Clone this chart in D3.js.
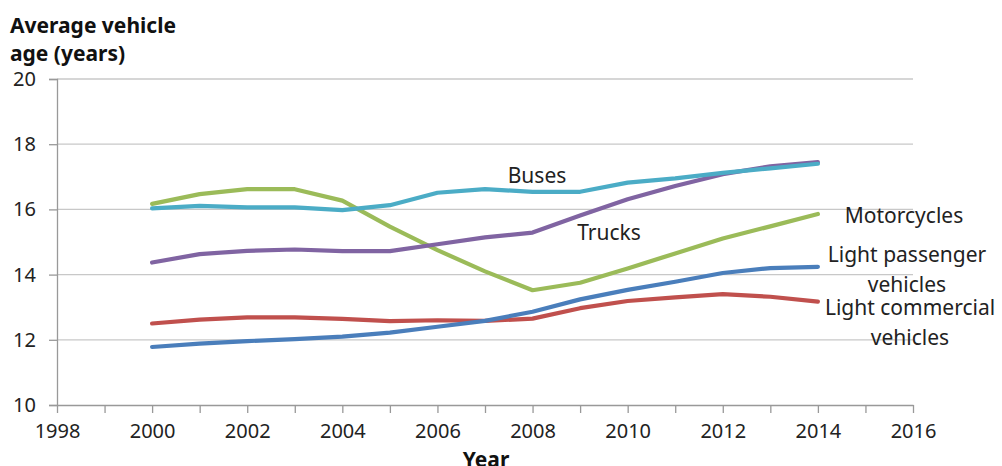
<!DOCTYPE html>
<html>
<head>
<meta charset="utf-8">
<script src="https://d3js.org/d3.v7.min.js"></script>
<style>
   body { margin: 0; background: #fff; }
   text { font-family: "Noto Sans", "Open Sans", sans-serif; fill: #222; }
</style>
</head>
<body>
<div id="chart"></div>
<script>
// average vehicle age by vehicle type, 2000..2014

var years = [2000, 2001, 2002, 2003, 2004, 2005, 2006, 2007, 2008, 2009, 2010, 2011, 2012, 2013, 2014];

var buses = [16.03, 16.11, 16.06, 16.06, 15.98, 16.13, 16.51, 16.62, 16.54, 16.54, 16.82, 16.95, 17.12, 17.26, 17.4];
var trucks = [14.37, 14.63, 14.73, 14.77, 14.72, 14.72, 14.93, 15.14, 15.29, 15.81, 16.31, 16.72, 17.08, 17.32, 17.45];
var motorcycles = [16.17, 16.47, 16.62, 16.62, 16.27, 15.47, 14.75, 14.1, 13.52, 13.75, 14.19, 14.65, 15.11, 15.48, 15.86];
var light_passenger = [11.78, 11.88, 11.96, 12.02, 12.1, 12.22, 12.4, 12.58, 12.86, 13.24, 13.53, 13.78, 14.05, 14.2, 14.24];
var light_commercial = [12.5, 12.62, 12.69, 12.69, 12.64, 12.57, 12.6, 12.58, 12.65, 12.97, 13.19, 13.3, 13.4, 13.32, 13.17];

var x_ticks = [1998, 2000, 2002, 2004, 2006, 2008, 2010, 2012, 2014, 2016];
var y_ticks = [10, 12, 14, 16, 18, 20];

var series = [
   {name: "Light commercial", values: light_commercial, color: "#c0504d"},
   {name: "Light passenger", values: light_passenger, color: "#4a7ebb"},
   {name: "Motorcycles", values: motorcycles, color: "#9bbb59"},
   {name: "Trucks", values: trucks, color: "#8064a2"},
   {name: "Buses", values: buses, color: "#4bacc6"}
];

// labels placed next to the lines, like in the original
var labels = [
   {lines: ["Buses"], x: 537, y: 176},
   {lines: ["Trucks"], x: 609, y: 233},
   {lines: ["Motorcycles"], x: 904, y: 216},
   {lines: ["Light passenger", "vehicles"], x: 907, y: 255},
   {lines: ["Light commercial", "vehicles"], x: 910, y: 308}
];

var width = 1002;
var height = 466;

var svg = d3.select("#chart").append("svg")
   .attr("width", width)
   .attr("height", height);

var x = d3.scaleLinear().domain([1998, 2016]).range([57, 913]);
var y = d3.scaleLinear().domain([10, 20]).range([405, 79]);

// horizontal gridlines
svg.append("g")
   .selectAll("line")
   .data(y_ticks.slice(1))
   .enter().append("line")
   .attr("x1", x(1998))
   .attr("x2", x(2016))
   .attr("y1", function (d) { return y(d); })
   .attr("y2", function (d) { return y(d); })
   .attr("stroke", "#c8c8c8")
   .attr("stroke-width", 1.3);

// y axis
var yAxis = svg.append("g")
   .attr("transform", "translate(" + x(1998) + ",0)")
   .call(d3.axisLeft(y).tickValues(y_ticks).tickSize(8).tickFormat(d3.format("d")));
yAxis.select(".domain").attr("stroke", "#999").attr("stroke-width", 1.3);
yAxis.selectAll(".tick line").attr("stroke", "#999").attr("stroke-width", 1.3);
yAxis.selectAll(".tick text")
   .attr("x", -21)
   .style("font-size", "20px")
   .style("font-family", "'Noto Sans', sans-serif")
   .attr("fill", "#222");

// x axis, minor tick every year
var xAxis = svg.append("g")
   .attr("transform", "translate(0," + y(10) + ")")
   .call(d3.axisBottom(x).ticks(18).tickSize(8).tickSizeOuter(0)
      .tickFormat(function (d) { return x_ticks.indexOf(d) >= 0 ? d : ""; }));
xAxis.select(".domain").attr("stroke", "#999").attr("stroke-width", 1.3);
xAxis.selectAll(".tick line").attr("stroke", "#999").attr("stroke-width", 1.3);
xAxis.selectAll(".tick text")
   .attr("y", 19)
   .style("font-size", "20px")
   .style("font-family", "'Noto Sans', sans-serif")
   .attr("fill", "#222");

// lines
var line = d3.line()
   .x(function (d, i) { return x(years[i]); })
   .y(function (d) { return y(d); });

svg.append("g")
   .selectAll("path")
   .data(series)
   .enter().append("path")
   .attr("d", function (d) { return line(d.values); })
   .attr("fill", "none")
   .attr("stroke", function (d) { return d.color; })
   .attr("stroke-width", 4.2)
   .attr("stroke-linejoin", "round")
   .attr("stroke-linecap", "round");

// series labels
labels.forEach(function (lab) {
   lab.lines.forEach(function (t, k) {
      svg.append("text")
         .attr("x", lab.x)
         .attr("y", lab.y + k * 30)
         .attr("dy", "0.35em")
         .attr("text-anchor", "middle")
         .style("font-size", "21px")
         .text(t);
   });
});

// titles
svg.append("text").attr("x", 10).attr("y", 33)
   .style("font-size", "21px").style("font-weight", "bold").style("fill", "#111")
   .text("Average vehicle");
svg.append("text").attr("x", 10).attr("y", 61)
   .style("font-size", "21px").style("font-weight", "bold").style("fill", "#111")
   .text("age (years)");
svg.append("text").attr("x", 486).attr("y", 467)
   .attr("text-anchor", "middle")
   .style("font-size", "21px").style("font-weight", "bold").style("fill", "#111")
   .text("Year");
</script>
</body>
</html>
